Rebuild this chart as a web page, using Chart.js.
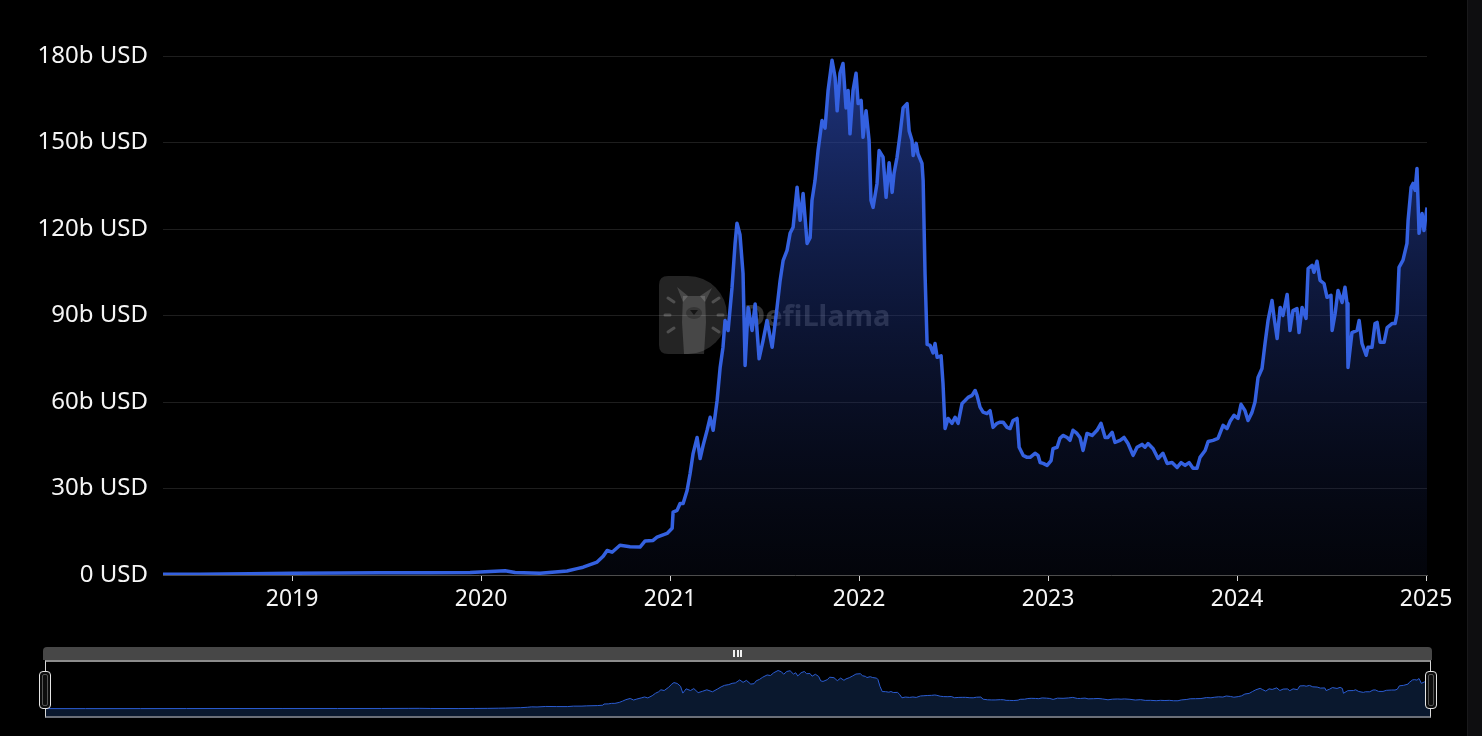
<!DOCTYPE html>
<html>
<head>
<meta charset="utf-8">
<script src="https://cdn.jsdelivr.net/npm/chart.js@4.4.1/dist/chart.umd.min.js"></script>
<style>
  html, body { margin:0; padding:0; background:#000; width:1482px; height:736px; overflow:hidden; }
  #main { position:absolute; left:0; top:0; width:1467px; height:630px; }
  #mini { position:absolute; left:45px; top:661px; width:1385px; height:56px; }
  #scroll { position:absolute; left:1467px; top:0; width:15px; height:736px; background:#0e0e10; border-left:1px solid #19191b; box-sizing:border-box; }
  #bar { position:absolute; left:43px; top:647px; width:1389px; height:13px; background:#474747; border-radius:4px 4px 0 0; }
  #grip { position:absolute; left:733px; top:650px; width:9px; height:7px; }
  #grip span { position:absolute; top:0; width:2px; height:7px; background:#f0f0f0; }
  #frame { position:absolute; left:45px; top:660px; width:1386px; height:58px; box-sizing:border-box; border-top:2px solid #8c8c8c; border-bottom:2px solid #6b6f78; border-left:1px solid #d8d8d8; border-right:1px solid #d8d8d8; }
  .handle { position:absolute; top:671px; width:12px; height:38px; box-sizing:border-box; border:1.5px solid #e6e6e6; border-radius:4px; background:#0d0d0d; }
  .handle::after { content:''; position:absolute; left:2px; right:2px; top:2px; bottom:2px; border:1px solid #555; border-radius:2px; }
</style>
</head>
<body>
<div id="main"><canvas id="c1"></canvas></div>
<div id="mini"><canvas id="c2"></canvas></div>
<div id="frame"></div>
<div id="bar"></div>
<div id="grip"><span style="left:0"></span><span style="left:3.5px"></span><span style="left:7px"></span></div>
<div class="handle" style="left:39px"></div>
<div class="handle" style="left:1425px"></div>
<div id="scroll"></div>
<script>
// ---- data (decimal years, TVL in billions USD) ----
const dates = [
 2018.317, 2018.513, 2018.778, 2019.000, 2019.254, 2019.466, 2019.730, 2019.942, 2020.074, 2020.127,
 2020.180, 2020.312, 2020.392, 2020.455, 2020.508, 2020.540, 2020.577, 2020.614, 2020.646, 2020.667,
 2020.693, 2020.735, 2020.788, 2020.841, 2020.868, 2020.910, 2020.931, 2020.984, 2021.011, 2021.016,
 2021.037, 2021.053, 2021.069, 2021.090, 2021.106, 2021.122, 2021.143, 2021.159, 2021.175, 2021.196,
 2021.212, 2021.228, 2021.249, 2021.265, 2021.280, 2021.291, 2021.307, 2021.328, 2021.344, 2021.354,
 2021.370, 2021.386, 2021.397, 2021.413, 2021.434, 2021.450, 2021.471, 2021.492, 2021.513, 2021.540,
 2021.566, 2021.582, 2021.598, 2021.619, 2021.635, 2021.651, 2021.672, 2021.688, 2021.704, 2021.725,
 2021.741, 2021.751, 2021.767, 2021.783, 2021.804, 2021.820, 2021.836, 2021.857, 2021.873, 2021.884,
 2021.899, 2021.915, 2021.931, 2021.942, 2021.952, 2021.968, 2021.984, 2021.995, 2022.011, 2022.021,
 2022.037, 2022.053, 2022.063, 2022.074, 2022.095, 2022.106, 2022.127, 2022.143, 2022.159, 2022.175,
 2022.185, 2022.201, 2022.217, 2022.233, 2022.254, 2022.265, 2022.280, 2022.286, 2022.302, 2022.312,
 2022.333, 2022.339, 2022.349, 2022.360, 2022.376, 2022.392, 2022.402, 2022.413, 2022.434, 2022.444,
 2022.455, 2022.471, 2022.492, 2022.508, 2022.524, 2022.545, 2022.561, 2022.577, 2022.598, 2022.614,
 2022.624, 2022.640, 2022.656, 2022.677, 2022.693, 2022.709, 2022.730, 2022.746, 2022.762, 2022.783,
 2022.799, 2022.815, 2022.836, 2022.847, 2022.868, 2022.889, 2022.905, 2022.931, 2022.947, 2022.958,
 2022.974, 2022.995, 2023.016, 2023.026, 2023.048, 2023.063, 2023.079, 2023.101, 2023.116, 2023.132,
 2023.153, 2023.169, 2023.185, 2023.206, 2023.233, 2023.259, 2023.280, 2023.302, 2023.317, 2023.339,
 2023.354, 2023.381, 2023.402, 2023.423, 2023.450, 2023.471, 2023.497, 2023.513, 2023.529, 2023.556,
 2023.582, 2023.608, 2023.630, 2023.656, 2023.683, 2023.704, 2023.725, 2023.746, 2023.767, 2023.788,
 2023.804, 2023.831, 2023.847, 2023.873, 2023.899, 2023.926, 2023.947, 2023.963, 2023.984, 2024.005,
 2024.021, 2024.042, 2024.058, 2024.079, 2024.095, 2024.111, 2024.132, 2024.148, 2024.164, 2024.185,
 2024.196, 2024.212, 2024.228, 2024.243, 2024.265, 2024.280, 2024.296, 2024.317, 2024.328, 2024.344,
 2024.365, 2024.376, 2024.397, 2024.407, 2024.423, 2024.439, 2024.460, 2024.476, 2024.497, 2024.503,
 2024.519, 2024.534, 2024.556, 2024.571, 2024.582, 2024.587, 2024.608, 2024.635, 2024.646, 2024.661,
 2024.683, 2024.693, 2024.714, 2024.730, 2024.741, 2024.757, 2024.778, 2024.794, 2024.820, 2024.836,
 2024.847, 2024.857, 2024.878, 2024.899, 2024.905, 2024.921, 2024.931, 2024.942, 2024.952, 2024.963,
 2024.979, 2024.989, 2025.005
];
const tvl = [
 0.3, 0.3, 0.4, 0.6, 0.7, 0.8, 0.8, 0.9, 1.3, 1.5,
 0.9, 0.6, 1.0, 1.4, 2.2, 2.7, 3.6, 4.5, 6.5, 8.5,
 7.9, 10.3, 9.8, 9.7, 11.8, 12.0, 13.1, 14.4, 16.2, 21.8,
 22.4, 24.8, 24.8, 29.3, 35.2, 42.2, 47.7, 40.4, 45.0, 50.2,
 54.7, 50.2, 60.6, 72.0, 79.0, 88.3, 84.8, 99.8, 115.0, 122.0,
 118.0, 104.6, 72.7, 92.8, 84.8, 94.0, 75.0, 81.3, 88.3, 79.0,
 92.8, 102.0, 109.0, 112.6, 118.5, 120.6, 134.5, 123.0, 132.3, 115.0,
 117.0, 130.0, 136.8, 147.2, 157.6, 155.0, 168.0, 178.5, 172.6, 161.0,
 174.0, 177.4, 162.0, 168.0, 153.0, 168.0, 174.0, 163.5, 164.6, 151.8,
 161.0, 150.7, 130.0, 127.5, 135.8, 147.2, 144.9, 131.0, 143.0, 132.7,
 139.3, 144.9, 153.0, 162.0, 163.5, 154.0, 150.7, 145.5, 149.7, 146.0,
 142.7, 136.8, 104.5, 80.0, 79.6, 77.0, 80.3, 75.5, 76.0, 66.5,
 50.8, 54.3, 52.6, 54.7, 52.6, 59.5, 60.5, 61.6, 62.3, 64.0,
 62.3, 58.2, 56.5, 56.0, 57.0, 51.2, 52.6, 53.0, 53.0, 51.2,
 50.8, 53.6, 54.3, 44.3, 41.5, 40.8, 40.8, 42.2, 41.5, 39.0,
 38.7, 38.0, 39.7, 43.8, 44.3, 47.4, 48.4, 47.7, 46.7, 50.2,
 49.1, 47.7, 43.2, 49.1, 48.4, 50.2, 52.6, 47.7, 47.7, 49.5,
 46.0, 46.7, 47.7, 45.6, 41.5, 44.3, 45.3, 44.3, 45.6, 43.8,
 40.4, 42.2, 38.7, 39.0, 37.3, 39.0, 38.0, 39.0, 37.0, 37.0,
 40.8, 43.2, 46.3, 46.7, 47.4, 51.9, 50.8, 53.3, 55.4, 54.3,
 59.2, 57.0, 53.6, 56.4, 60.0, 68.5, 71.6, 80.3, 88.3, 95.2,
 89.3, 82.0, 92.8, 90.0, 97.3, 84.8, 91.7, 92.4, 84.1, 92.8,
 89.0, 106.3, 107.4, 105.0, 108.8, 102.2, 101.1, 96.3, 97.0, 84.8,
 90.7, 98.7, 94.5, 99.8, 94.2, 72.0, 84.1, 84.8, 88.3, 80.3,
 76.2, 79.0, 79.0, 87.2, 87.6, 80.7, 80.7, 85.8, 87.2, 87.2,
 90.7, 106.7, 109.2, 115.0, 123.0, 134.5, 135.8, 133.4, 141.0, 118.5,
 125.4, 119.5, 127.5
];
const yearTicks = [2019, 2020, 2021, 2022, 2023, 2024, 2025];
const valueTicks = [0, 30, 60, 90, 120, 150, 180];
const xMin = 2018.317, xMax = 2025.005;

const FONT = '"Noto Sans", "Open Sans", sans-serif';
const points = dates.map((d, i) => ({ x: d, y: tvl[i] }));

const watermark = {
  id: 'watermark',
  beforeDatasetsDraw(chart) {
    const c = chart.ctx;
    c.save();
    // D-shaped logo plate
    const L = 659, T = 276, B = 354, r = 9, rad = 39, cx = 688, mid = (T + B) / 2;
    c.fillStyle = 'rgba(255,255,255,0.14)';
    c.beginPath();
    c.moveTo(L + r, T);
    c.lineTo(cx, T);
    c.arc(cx, mid, rad, -Math.PI / 2, Math.PI / 2);
    c.lineTo(L + r, B);
    c.quadraticCurveTo(L, B, L, B - r);
    c.lineTo(L, T + r);
    c.quadraticCurveTo(L, T, L + r, T);
    c.fill();
    // llama
    c.fillStyle = 'rgba(255,255,255,0.16)';
    c.beginPath();
    c.moveTo(677, 287); c.lineTo(688, 296); c.lineTo(683, 302); c.closePath();
    c.moveTo(712, 288); c.lineTo(700, 296); c.lineTo(705, 302); c.closePath();
    c.fill();
    c.beginPath();
    c.moveTo(683, 296); c.lineTo(705, 296); c.lineTo(706, 322); c.lineTo(704, 354);
    c.lineTo(684, 354); c.lineTo(682, 322); c.closePath();
    c.fill();
    c.fillStyle = 'rgba(0,0,0,0.25)';
    c.beginPath(); c.ellipse(694, 313, 8, 6, 0, 0, Math.PI * 2); c.fill();
    c.fillStyle = 'rgba(0,0,0,0.6)';
    c.beginPath(); c.moveTo(690, 310); c.lineTo(698, 310); c.lineTo(694, 315); c.closePath(); c.fill();
    // rays
    c.strokeStyle = 'rgba(255,255,255,0.2)';
    c.lineWidth = 3; c.lineCap = 'round';
    [[668, 298, 674, 302], [665, 315, 670, 315], [668, 332, 674, 328],
     [713, 302, 719, 298], [718, 315, 723, 315], [713, 328, 719, 332]].forEach(s => {
      c.beginPath(); c.moveTo(s[0], s[1]); c.lineTo(s[2], s[3]); c.stroke();
    });
    // wordmark
    c.font = 'bold 29px ' + FONT;
    c.fillStyle = 'rgba(255,255,255,0.2)';
    c.textBaseline = 'middle';
    c.textAlign = 'left';
    c.fillText('DefiLlama', 744, 318);
    c.restore();
  }
};

new Chart(document.getElementById('c1'), {
  type: 'line',
  data: {
    datasets: [{
      data: points,
      borderColor: '#3461e0',
      borderWidth: 3.5,
      pointRadius: 0,
      tension: 0,
      borderJoinStyle: 'round',
      fill: 'origin',
      backgroundColor: (ctx) => {
        const ca = ctx.chart.chartArea;
        if (!ca) return 'rgba(30,50,120,0.5)';
        const g = ctx.chart.ctx.createLinearGradient(0, ca.top, 0, ca.bottom);
        g.addColorStop(0, 'rgba(42,72,175,0.72)');
        g.addColorStop(0.5, 'rgba(30,52,130,0.42)');
        g.addColorStop(1, 'rgba(20,30,70,0.15)');
        return g;
      }
    }]
  },
  options: {
    responsive: true,
    maintainAspectRatio: false,
    animation: false,
    events: [],
    layout: { padding: { top: 56, right: 40, bottom: 0, left: 0 } },
    plugins: { legend: { display: false }, tooltip: { enabled: false } },
    scales: {
      x: {
        type: 'linear',
        min: xMin, max: xMax,
        afterBuildTicks: (s) => { s.ticks = yearTicks.map(v => ({ value: v })); },
        afterFit: (s) => { s.height = 55; },
        grid: { drawOnChartArea: false, drawTicks: true, tickLength: 6, tickColor: '#d8d8d8', color: '#d8d8d8' },
        border: { display: true, color: '#4d4d4d', width: 1 },
        ticks: { color: '#f5f5f5', font: { family: FONT, size: 23 }, padding: 5, maxRotation: 0, autoSkip: false,
                 callback: (v) => String(v) }
      },
      y: {
        min: 0, max: 180,
        afterBuildTicks: (s) => { s.ticks = valueTicks.map(v => ({ value: v })); },
        afterFit: (s) => { s.width = 163; },
        grid: { drawTicks: false, color: (ctx) => (ctx.tick && ctx.tick.value === 0) ? 'rgba(0,0,0,0)' : '#1e1e1e' },
        border: { display: false },
        ticks: { padding: 15, color: '#f5f5f5', font: { family: FONT, size: 24 },
                 callback: (v) => v === 0 ? '0 USD' : v + 'b USD' }
      }
    }
  },
  plugins: [watermark]
});

new Chart(document.getElementById('c2'), {
  type: 'line',
  data: {
    datasets: [{
      data: points,
      borderColor: '#2a5bd0',
      borderWidth: 1,
      pointRadius: 0,
      tension: 0,
      fill: 'start',
      backgroundColor: '#0a182e'
    }]
  },
  options: {
    responsive: true,
    maintainAspectRatio: false,
    animation: false,
    events: [],
    layout: { padding: 0 },
    plugins: { legend: { display: false }, tooltip: { enabled: false } },
    scales: {
      x: { type: 'linear', display: false, min: xMin, max: xMax },
      y: { display: false, min: -39, max: 223 }
    }
  }
});
</script>
</body>
</html>
